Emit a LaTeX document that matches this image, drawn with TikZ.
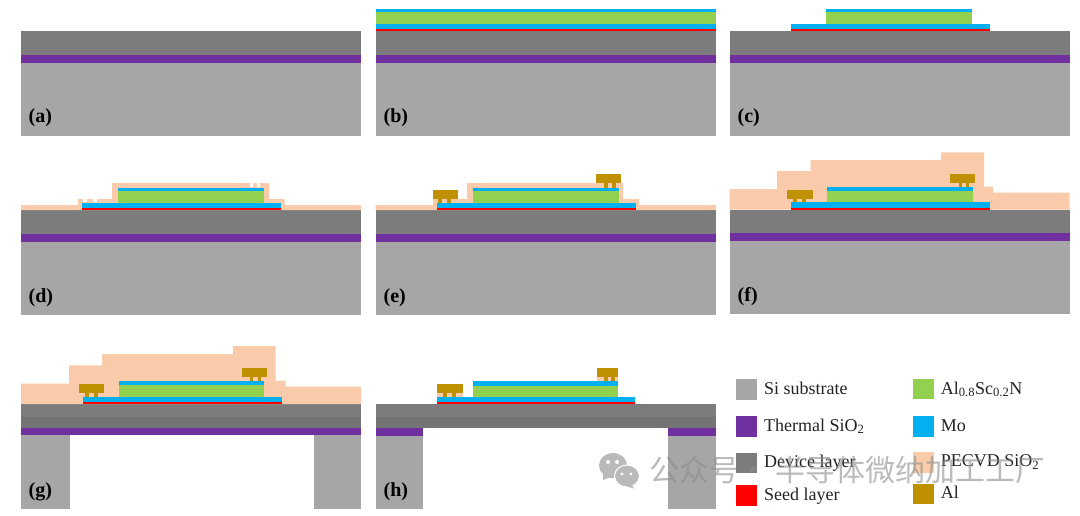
\documentclass[tikz,border=0pt]{standalone}
\usepackage{xcolor}
\usepackage{fontspec}
\setmainfont{Liberation Serif}
\newfontfamily\cjkfont{Noto Sans CJK SC}
\definecolor{sicolor}{HTML}{A6A6A6}
\definecolor{oxidecolor}{HTML}{7030A0}
\definecolor{devicecolor}{HTML}{7C7C7C}
\definecolor{devicedark}{HTML}{747474}
\definecolor{seedcolor}{HTML}{FF0000}
\definecolor{alsccolor}{HTML}{92D050}
\definecolor{mocolor}{HTML}{00B0F0}
\definecolor{pecvdcolor}{HTML}{F9CBAB}
\definecolor{alcolor}{HTML}{BF9000}
\definecolor{textdark}{HTML}{222222}
\definecolor{markgray}{HTML}{8C8C8C}

\begin{document}
\begin{tikzpicture}[
        x=1pt, y=-1pt,
        si/.style={fill=sicolor},
        oxide/.style={fill=oxidecolor},
        device/.style={fill=devicecolor},
        devicelow/.style={fill=devicedark},
        seed/.style={fill=seedcolor},
        alsc/.style={fill=alsccolor},
        mo/.style={fill=mocolor},
        pecvd/.style={fill=pecvdcolor},
        al/.style={fill=alcolor},
        panel/.style={anchor=base west, inner sep=0pt, text=black, font=\fontsize{20}{22}\selectfont\bfseries},
        legend/.style={anchor=base west, inner sep=0pt, text=textdark, font=\fontsize{18}{20}\selectfont},
        stamp/.style={anchor=base west, inner sep=0pt, text=markgray, opacity=0.6, font=\fontsize{30}{32}\selectfont\cjkfont}
    ]
        \useasboundingbox (0,0) rectangle (1080,515);

        \fill[si] (21,63) rectangle (361,135.5);
        \fill[oxide] (21,55) rectangle (361,63);
        \fill[device] (21,31) rectangle (361,55);
        \node[panel] (labela) at (28.5,122) {(a)};

        \fill[si] (375.5,63) rectangle (716,135.5);
        \fill[oxide] (375.5,55) rectangle (716,63);
        \fill[device] (375.5,31) rectangle (716,55);
        \fill[seed] (375.5,29) rectangle (716,31);
        \fill[mo] (375.5,24) rectangle (716,29);
        \fill[alsc] (375.5,12.3) rectangle (716,24);
        \fill[mo] (375.5,8.5) rectangle (716,12.3);
        \node[panel] (labelb) at (383.5,122) {(b)};

        \fill[si] (729.5,63) rectangle (1069.5,135.5);
        \fill[oxide] (729.5,55) rectangle (1069.5,63);
        \fill[device] (729.5,31) rectangle (1069.5,55);
        \fill[seed] (791,29) rectangle (989.5,31);
        \fill[mo] (791,24) rectangle (989.5,29);
        \fill[alsc] (826.3,12.3) rectangle (972.3,24);
        \fill[mo] (826.3,8.5) rectangle (972.3,12.3);
        \node[panel] (labelc) at (737.5,122) {(c)};

        \fill[si] (21,242) rectangle (361,315);
        \fill[oxide] (21,234) rectangle (361,242);
        \fill[device] (21,210) rectangle (361,234);
        \fill[pecvd] (21,210) |- (78,205) |- (112,199) |- (269,183) |- (284.7,199) |- (361,205) |- cycle;
        \fill[white] (83,199) rectangle (87,202);
        \fill[white] (93,199) rectangle (97,202);
        \fill[white] (249.5,183) rectangle (253,187);
        \fill[white] (257,183) rectangle (260,187);
        \fill[seed] (82.3,208) rectangle (281,210);
        \fill[mo] (82.3,203) rectangle (281,208);
        \fill[alsc] (118,191) rectangle (263.5,203);
        \fill[mo] (118,187.5) rectangle (263.5,191);
        \node[panel] (labeld) at (28.5,302) {(d)};

        \fill[si] (375.5,242) rectangle (716,315);
        \fill[oxide] (375.5,234) rectangle (716,242);
        \fill[device] (375.5,210) rectangle (716,234);
        \fill[pecvd] (375.5,210) |- (433,205) |- (467,199) |- (623,183) |- (639,199) |- (716,205) |- cycle;
        \fill[seed] (437,208) rectangle (635.5,210);
        \fill[mo] (437,203) rectangle (635.5,208);
        \fill[alsc] (472.5,191) rectangle (618.5,203);
        \fill[mo] (472.5,187.5) rectangle (618.5,191);
        \fill[al] (433,190) rectangle (458,199);
        \fill[al] (438,199) rectangle (442,203);
        \fill[al] (447,199) rectangle (451,203);
        \fill[al] (596,174) rectangle (621,183);
        \fill[al] (604,183) rectangle (608,187.5);
        \fill[al] (612,183) rectangle (615.5,187.5);
        \node[panel] (labele) at (383.5,302) {(e)};

        \fill[si] (729.5,241) rectangle (1069.5,313.5);
        \fill[oxide] (729.5,233.3) rectangle (1069.5,241);
        \fill[device] (729.5,209.5) rectangle (1069.5,233.3);
        \fill[pecvd] (729.5,209.5) |- (777,189) |- (810.7,171) |- (941,160) |- (984,152.3) |- (993,186.7) |- (1069.5,192.7) |- cycle;
        \fill[seed] (791,207.5) rectangle (989.5,209.5);
        \fill[mo] (791,202) rectangle (989.5,207.5);
        \fill[alsc] (826.5,191) rectangle (972.5,202);
        \fill[mo] (826.5,186.7) rectangle (972.5,191);
        \fill[al] (787,190) rectangle (812.7,199);
        \fill[al] (793.3,199) rectangle (797,202);
        \fill[al] (802.3,199) rectangle (806,202);
        \fill[al] (950.3,173.7) rectangle (975,182.7);
        \fill[al] (958.7,182.7) rectangle (962.3,186.7);
        \fill[al] (965.7,182.7) rectangle (969,186.7);
        \node[panel] (labelf) at (737.5,301) {(f)};

        \fill[si] (21,435) rectangle (69.5,509);
        \fill[si] (314,435) rectangle (361,509);
        \fill[oxide] (21,427.7) rectangle (361,435);
        \fill[device] (21,404) rectangle (361,416.5);
        \fill[devicelow] (21,416.5) rectangle (361,427.7);
        \fill[pecvd] (21,404) |- (69,383.7) |- (102,365.3) |- (233,354) |- (275.7,346) |- (285.7,380.7) |- (361,386.7) |- cycle;
        \fill[seed] (82.7,402) rectangle (281.7,404);
        \fill[mo] (82.7,397) rectangle (281.7,402);
        \fill[alsc] (118.7,385.3) rectangle (264.3,397);
        \fill[mo] (118.7,381) rectangle (264.3,385.3);
        \fill[al] (78.7,384.3) rectangle (104.3,393);
        \fill[al] (85.3,393) rectangle (89,397);
        \fill[al] (94.3,393) rectangle (97.5,397);
        \fill[al] (242.3,367.7) rectangle (267,376.7);
        \fill[al] (250,376.7) rectangle (253,381);
        \fill[al] (257.7,376.7) rectangle (261,381);
        \node[panel] (labelg) at (28.5,496) {(g)};

        \fill[si] (375.7,435.5) rectangle (423.3,509);
        \fill[si] (668.3,435.5) rectangle (716,509);
        \fill[oxide] (375.7,428) rectangle (423.3,435.5);
        \fill[oxide] (668.3,428) rectangle (716,435.5);
        \fill[device] (375.7,404) rectangle (716,416.5);
        \fill[devicelow] (375.7,416.5) rectangle (716,428);
        \fill[seed] (437,402) rectangle (635.3,404);
        \fill[mo] (437,397) rectangle (635.3,402);
        \fill[alsc] (472.7,385.5) rectangle (618.3,397);
        \fill[mo] (472.7,381) rectangle (618.3,385.5);
        \fill[pecvd] (437,393) rectangle (462.7,397);
        \fill[al] (437,384) rectangle (462.7,393);
        \fill[al] (443,393) rectangle (446.5,397);
        \fill[al] (452,393) rectangle (456,397);
        \fill[pecvd] (596.7,376.7) rectangle (618.3,381);
        \fill[al] (596.7,367.7) rectangle (618.3,376.7);
        \fill[al] (603.5,376.7) rectangle (607.5,381);
        \fill[al] (610.7,376.7) rectangle (615,381);
        \node[panel] (labelh) at (383.5,496) {(h)};

        \fill[si] (736,379.3) rectangle (756.7,400);
        \node[legend] (legsi) at (764,394) {Si substrate};
        \fill[oxide] (736,416) rectangle (756.7,436.7);
        \node[legend] (legoxide) at (764,431) {Thermal SiO\textsubscript{2}};
        \fill[device] (736,452.7) rectangle (756.7,473);
        \node[legend] (legdevice) at (764,467) {Device layer};
        \fill[seed] (736,485.3) rectangle (756.7,506);
        \node[legend] (legseed) at (764,500) {Seed layer};

        \fill[alsc] (913.3,378.7) rectangle (934,399.3);
        \node[legend] (legalsc) at (940.7,394) {Al\textsubscript{0.8}Sc\textsubscript{0.2}N};
        \fill[mo] (913.3,416.3) rectangle (934,437);
        \node[legend] (legmo) at (940.7,431.5) {Mo};
        \fill[pecvd] (913.3,452.3) rectangle (934,472.7);
        \node[legend] (legpecvd) at (940.7,466.7) {PECVD SiO\textsubscript{2}};
        \fill[al] (913.3,483.7) rectangle (934,504);
        \node[legend] (legal) at (940.7,498) {Al};

        \fill[markgray!60] (613,465.5) ellipse (14 and 12.5);
        \fill[markgray!60] (603,474) -- (603,480) -- (611,477) -- cycle;
        \fill[white] (608,462) circle (2);
        \fill[white] (617,462) circle (2);
        \fill[markgray!60, draw=white, line width=1pt] (627,476) ellipse (12.5 and 11);
        \fill[markgray!60] (632,485) -- (634,488.5) -- (627,486.5) -- cycle;
        \fill[white] (622,474) circle (1.7);
        \fill[white] (631,474) circle (1.7);
        \node[stamp] (stampname) at (649,481) {公众号\hspace{-1pt}·\hspace{7pt}半导体微纳加工工厂};
    \end{tikzpicture}
\end{document}
